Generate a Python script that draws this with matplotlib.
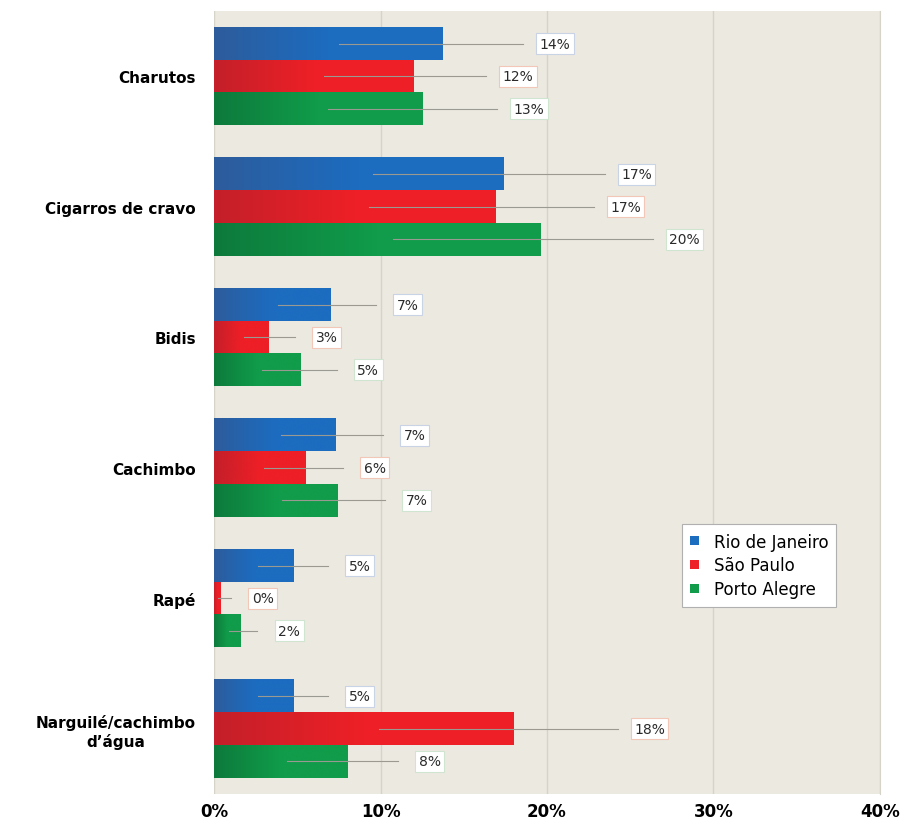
import numpy as np
import matplotlib
matplotlib.use("Agg")
import matplotlib.pyplot as plt
from matplotlib.colors import LinearSegmentedColormap
from matplotlib.patches import Patch

categories = ["Charutos", "Cigarros de cravo", "Bidis", "Cachimbo", "Rapé",
              "Narguilé/cachimbo\nd\u2019água"]
series = ["Rio de Janeiro", "São Paulo", "Porto Alegre"]
rio = [13.7, 17.4, 7.0, 7.3, 4.8, 4.8]
sao_paulo = [12.0, 16.9, 3.3, 5.5, 0.4, 18.0]
porto_alegre = [12.5, 19.6, 5.2, 7.4, 1.6, 8.0]
labels = [["14%", "17%", "7%", "7%", "5%", "5%"],
          ["12%", "17%", "3%", "6%", "0%", "18%"],
          ["13%", "20%", "5%", "7%", "2%", "8%"]]
xticks = [0, 10, 20, 30, 40]

colors = [("#2d5c9c", "#1c6cc0"), ("#c41f2a", "#ee1f26"), ("#0d7a3c", "#109c4a")]
legend_colors = ["#1c6cc0", "#ee1f26", "#109c4a"]
edge_colors = ["#c9d3e6", "#f3c7b8", "#cfe5cf"]

fig = plt.figure(figsize=(9.03, 8.29), dpi=100)
ax = fig.add_axes([0.237, 0.041, 0.7375, 0.9445])
ax.set_facecolor("#ece9e1")

bar_h = 0.25
y = np.arange(len(categories))
values = [rio, sao_paulo, porto_alegre]

for i, vals in enumerate(values):
    cmap = LinearSegmentedColormap.from_list(f"g{i}", [colors[i][0], colors[i][1], colors[i][1]])
    for j, v in enumerate(vals):
        yc = y[j] + (i - 1) * bar_h
        top = yc - bar_h / 2
        bot = yc + bar_h / 2
        grad = np.linspace(0, 1, 64).reshape(1, -1)
        ax.imshow(grad, cmap=cmap, aspect="auto", extent=(0, v, bot, top),
                  zorder=2, interpolation="bicubic")
        # leader line and label
        lx = 2.4 + 1.32 * v
        ax.plot([0.55 * v, lx - 1.9], [yc, yc], color="#9a9a92", lw=0.8, zorder=3)
        ax.text(lx, yc, labels[i][j], ha="center", va="center", fontsize=10,
                color="#2a2a2a", zorder=4,
                bbox=dict(boxstyle="square,pad=0.25", fc="white",
                          ec=edge_colors[i], lw=0.8))

ax.set_xlim(0, 40)
ax.set_ylim(len(categories) - 0.5, -0.5)
ax.set_xticks(xticks)
ax.set_xticklabels([f"{t}%" for t in xticks], fontsize=12, fontweight="bold")
ax.set_yticks(y)
ax.set_yticklabels(categories, fontsize=11, fontweight="bold", multialignment="center")
ax.tick_params(length=0, pad=6, axis="x")
ax.tick_params(length=0, pad=13, axis="y")
ax.xaxis.grid(True, color="#d6d3c8", lw=1)
ax.set_axisbelow(True)
for s in ["top", "left", "bottom"]:
    ax.spines[s].set_visible(False)
ax.spines["right"].set_color("#d6d3c8")

handles = [Patch(facecolor=c, edgecolor="none") for c in legend_colors]
leg = ax.legend(handles, series, loc="center left", bbox_to_anchor=(0.69, 0.292),
                fontsize=12, frameon=True, fancybox=False, handlelength=0.5,
                handleheight=0.5, handletextpad=0.9, borderpad=0.5, labelspacing=0.35)
leg.get_frame().set_edgecolor("#b0b0b0")
leg.get_frame().set_linewidth(0.8)
leg.get_frame().set_alpha(1)

fig.savefig("out.png", dpi=100)
